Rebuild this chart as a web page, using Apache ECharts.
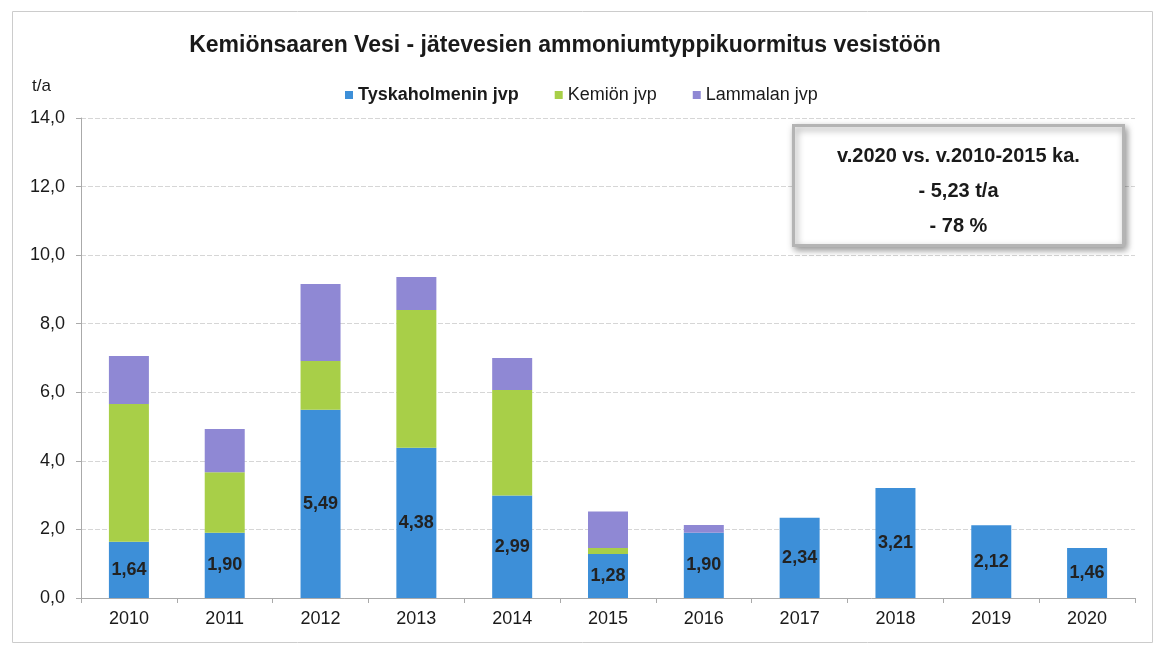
<!DOCTYPE html>
<html>
<head>
<meta charset="utf-8">
<script src="https://cdn.jsdelivr.net/npm/echarts@6/dist/echarts.min.js"></script>
<style>
html,body{margin:0;padding:0;background:#fff;}
#chart{width:1157px;height:648px;}
</style>
</head>
<body>
<div id="chart"></div>
<script>
const years = ['2010','2011','2012','2013','2014','2015','2016','2017','2018','2019','2020'];
const tyskaholmen = [1.64, 1.90, 5.49, 4.38, 2.99, 1.28, 1.90, 2.34, 3.21, 2.12, 1.46];
const kemio = [4.02, 1.77, 1.42, 4.02, 3.08, 0.18, 0, 0, 0, 0, 0];
const lammala = [1.40, 1.26, 2.25, 0.96, 0.93, 1.06, 0.23, 0, 0, 0, 0];
const seriesNames = ['Tyskaholmenin jvp', 'Kemiön jvp', 'Lammalan jvp'];
const titleText = 'Kemiönsaaren Vesi - jätevesien ammoniumtyppikuormitus vesistöön';
const boxLines = ['v.2020 vs. v.2010-2015 ka.', '- 5,23 t/a', '- 78 %'];

const colors = ['#3d8fd8', '#a8cf48', '#8f88d4'];
const fontFamily = '"Liberation Sans", Arial, sans-serif';
const fmt = v => v.toFixed(1).replace('.', ',');
const boxFont = 'bold 20px "Liberation Sans", Arial, sans-serif';

const chart = echarts.init(document.getElementById('chart'));
chart.setOption({
  animation: false,
  textStyle: { fontFamily: fontFamily },
  title: {
    text: titleText,
    left: 560, top: 29, textAlign: 'center',
    textStyle: { fontSize: 23, fontWeight: 'bold', color: '#1a1a1a', fontFamily: fontFamily }
  },
  legend: {
    top: 81, left: 340,
    itemWidth: 8, itemHeight: 8, itemGap: 36,
    icon: 'rect',
    textStyle: { fontSize: 18, color: '#1a1a1a', fontFamily: fontFamily },
    data: [
      { name: seriesNames[0], textStyle: { fontWeight: 'bold' } },
      { name: seriesNames[1] },
      { name: seriesNames[2] }
    ]
  },
  grid: { left: 81, right: 22, top: 118, bottom: 50 },
  xAxis: {
    type: 'category', data: years,
    axisLine: { lineStyle: { color: '#aaaaaa' } },
    axisTick: { show: true, length: 5, lineStyle: { color: '#aaaaaa' } },
    axisLabel: { fontSize: 18, color: '#1a1a1a', margin: 12 }
  },
  yAxis: {
    type: 'value', min: 0, max: 14, interval: 2,
    name: 't/a', nameLocation: 'end', nameGap: 23,
    nameTextStyle: { fontSize: 17, color: '#1a1a1a', align: 'right', padding: [0, 30, 0, 0] },
    axisLine: { show: true, lineStyle: { color: '#aaaaaa' } },
    axisTick: { show: true, length: 5, lineStyle: { color: '#aaaaaa' } },
    axisLabel: { fontSize: 18, color: '#1a1a1a', formatter: fmt, margin: 16 },
    splitLine: { lineStyle: { color: '#d6d6d6', type: [5, 2] } }
  },
  series: [
    {
      name: seriesNames[0], type: 'bar', stack: 'total', data: tyskaholmen,
      barWidth: 40, itemStyle: { color: colors[0] },
      label: {
        show: true, position: 'inside', fontSize: 18, fontWeight: 'bold', color: '#222',
        formatter: p => p.value.toFixed(2).replace('.', ',')
      }
    },
    { name: seriesNames[1], type: 'bar', stack: 'total', data: kemio, barWidth: 40, itemStyle: { color: colors[1] } },
    { name: seriesNames[2], type: 'bar', stack: 'total', data: lammala, barWidth: 40, itemStyle: { color: colors[2] } }
  ],
  graphic: [
    {
      type: 'rect', left: 10, top: 9,
      shape: { width: 1140, height: 631 },
      style: { fill: 'none', stroke: '#cccccc', lineWidth: 1 },
      silent: true, z: -1
    },
    {
      type: 'group', left: 792, top: 124, z: 100,
      children: [
        {
          type: 'rect', z: 100, shape: { width: 330, height: 120 },
          style: { fill: '#ffffff', stroke: '#b4b4b4', lineWidth: 3,
                   shadowBlur: 7, shadowColor: 'rgba(0,0,0,0.4)', shadowOffsetX: 2, shadowOffsetY: 3 }
        },
        { type: 'text', z: 101, x: 165, y: 31, style: { text: boxLines[0], fill: '#1a1a1a', font: boxFont, align: 'center', verticalAlign: 'middle' } },
        { type: 'text', z: 101, x: 165, y: 66, style: { text: boxLines[1], fill: '#1a1a1a', font: boxFont, align: 'center', verticalAlign: 'middle' } },
        { type: 'text', z: 101, x: 165, y: 101, style: { text: boxLines[2], fill: '#1a1a1a', font: boxFont, align: 'center', verticalAlign: 'middle' } }
      ]
    }
  ]
});
</script>
</body>
</html>
